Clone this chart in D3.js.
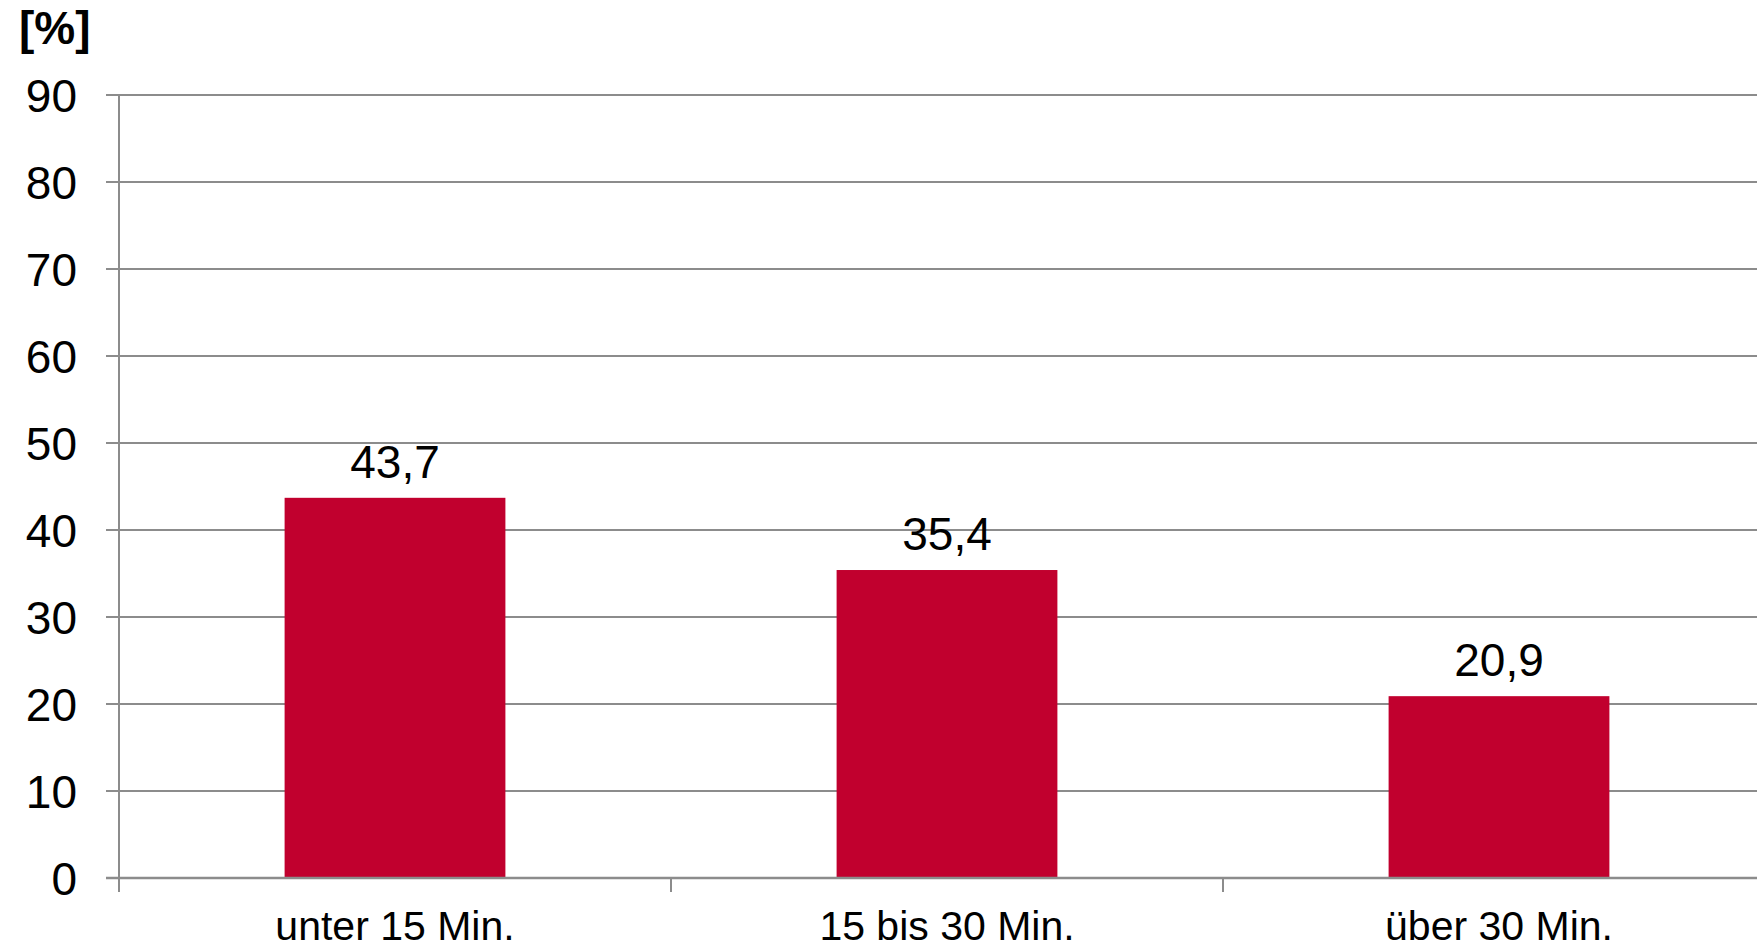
<!DOCTYPE html>
<html>
<head>
<meta charset="utf-8">
<script src="https://cdn.jsdelivr.net/npm/d3@7/dist/d3.min.js"></script>
<style>
  html, body { margin: 0; padding: 0; background: #fff; }
  svg { display: block; }
  text { font-family: "Liberation Sans", Arial, sans-serif; fill: #000; }
</style>
</head>
<body>
<svg id="chart" width="1757" height="951"></svg>
<script>
// Travel time shares
const categories = ["unter 15 Min.", "15 bis 30 Min.", "über 30 Min."];
const values = [43.7, 35.4, 20.9];
const yTicks = [0, 10, 20, 30, 40, 50, 60, 70, 80, 90];
const unitLabel = "[%]";

const W = 1757, H = 951;
const plot = { left: 119, right: 1775, top: 95, bottom: 878 };

const svg = d3.select("#chart");

const y = d3.scaleLinear().domain([0, 90]).range([plot.bottom, plot.top]);
const x = d3.scaleBand().domain(categories).range([plot.left, plot.right]).padding(0);
const barW = x.bandwidth() * 0.4;

const fmt = v => String(v).replace(".", ",");

// horizontal gridlines with small left ticks
svg.append("g")
  .selectAll("line")
  .data(yTicks)
  .join("line")
  .attr("x1", plot.left - 13)
  .attr("x2", W)
  .attr("y1", d => y(d))
  .attr("y2", d => y(d))
  .attr("stroke", "#8c8c8c")
  .attr("stroke-width", 2);

// y tick labels
svg.append("g")
  .selectAll("text")
  .data(yTicks)
  .join("text")
  .attr("x", 77)
  .attr("y", d => y(d))
  .attr("dy", "0.36em")
  .attr("text-anchor", "end")
  .attr("font-size", 46)
  .text(d => d);

// bars
svg.append("g")
  .selectAll("rect")
  .data(values)
  .join("rect")
  .attr("x", (d, i) => x(categories[i]) + (x.bandwidth() - barW) / 2)
  .attr("width", barW)
  .attr("y", d => y(d))
  .attr("height", d => y(0) - y(d))
  .attr("fill", "#c1002e");

// value labels
svg.append("g")
  .selectAll("text")
  .data(values)
  .join("text")
  .attr("x", (d, i) => x(categories[i]) + x.bandwidth() / 2)
  .attr("y", d => y(d) - 20)
  .attr("text-anchor", "middle")
  .attr("font-size", 46)
  .text(d => fmt(d));

// y axis line
svg.append("line")
  .attr("x1", plot.left).attr("x2", plot.left)
  .attr("y1", plot.top).attr("y2", plot.bottom + 14)
  .attr("stroke", "#8c8c8c").attr("stroke-width", 2);

// baseline
svg.append("line")
  .attr("x1", plot.left - 13).attr("x2", W)
  .attr("y1", plot.bottom).attr("y2", plot.bottom)
  .attr("stroke", "#8c8c8c").attr("stroke-width", 2.5);

// category boundary ticks
svg.append("g")
  .selectAll("line")
  .data(categories)
  .join("line")
  .attr("x1", d => x(d)).attr("x2", d => x(d))
  .attr("y1", plot.bottom).attr("y2", plot.bottom + 14)
  .attr("stroke", "#8c8c8c").attr("stroke-width", 2);

// category labels
svg.append("g")
  .selectAll("text")
  .data(categories)
  .join("text")
  .attr("x", d => x(d) + x.bandwidth() / 2)
  .attr("y", 940)
  .attr("text-anchor", "middle")
  .attr("font-size", 41)
  .text(d => d);

// unit label
svg.append("text")
  .attr("x", 19)
  .attr("y", 44)
  .attr("font-size", 46)
  .attr("font-weight", "bold")
  .text(unitLabel);
</script>
</body>
</html>
